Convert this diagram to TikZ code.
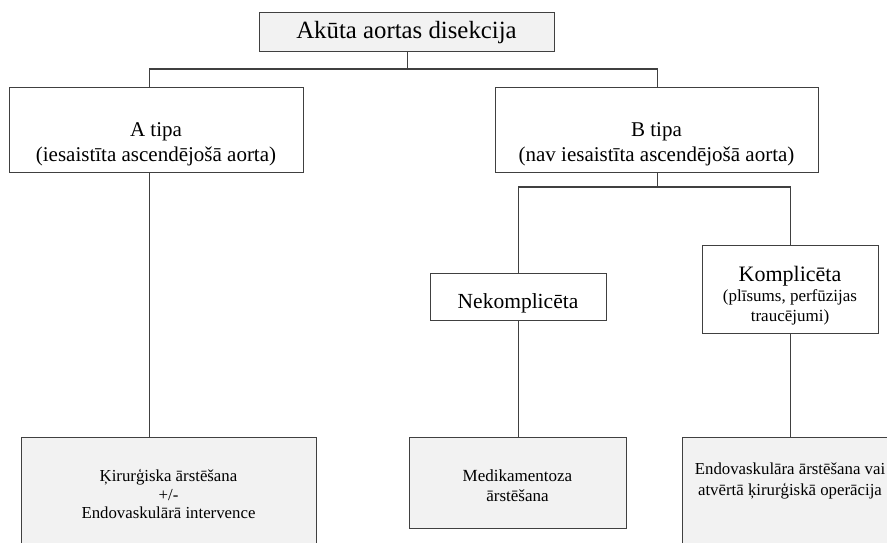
\documentclass[tikz,border=0pt]{standalone}
\usepackage{fontspec}
\setmainfont{Liberation Serif}
\usetikzlibrary{calc}
\definecolor{edge}{HTML}{404040}
\definecolor{shade}{HTML}{F2F2F2}
\tikzset{
  box/.style={draw=edge, line width=1.4pt, anchor=north west, inner sep=0pt},
  greybox/.style={box, fill=shade},
  whitebox/.style={box, fill=white},
  label text/.style={align=center, inner sep=0pt, text=black},
  link/.style={draw=edge, line width=1.4pt},
}
\begin{document}
\begin{tikzpicture}[x=1pt, y=-1pt]
  \useasboundingbox (0,0) rectangle (887,543);
  \clip (0,0) rectangle (887,543);
  \fill[white] (0,0) rectangle (887,543);

  % boxes
  \node[greybox, minimum width=295pt, minimum height=39pt] (top) at (259,12) {};
  \node[whitebox, minimum width=294pt, minimum height=85pt] (A) at (9,87) {};
  \node[whitebox, minimum width=323pt, minimum height=85pt] (B) at (495,87) {};
  \node[whitebox, minimum width=176pt, minimum height=47pt] (nek) at (430,273) {};
  \node[whitebox, minimum width=176pt, minimum height=88pt] (kom) at (702,245) {};
  \node[greybox, minimum width=295pt, minimum height=120pt] (kir) at (21,437) {};
  \node[greybox, minimum width=217pt, minimum height=91pt] (med) at (409,437) {};
  \node[greybox, minimum width=216pt, minimum height=120pt] (endo) at (682,437) {};

  % texts
  \node[label text, font=\fontsize{24.8}{28}\selectfont] (topT) at (406.5,33) {Akūta aortas disekcija};
  \node[label text, font=\fontsize{21}{25}\selectfont] (AT) at (156,144) {A tipa\\(iesaistīta ascendējošā aorta)};
  \node[label text, font=\fontsize{21}{25}\selectfont] (BT) at (656.5,144) {B tipa\\(nav iesaistīta ascendējošā aorta)};
  \node[label text, font=\fontsize{21.5}{25}\selectfont] (nekT) at (518,303) {Nekomplicēta};
  \node[label text, font=\fontsize{17}{20}\selectfont] (komT) at (790,296)
    {{\fontsize{22}{26}\selectfont Komplicēta}\\(plīsums, perfūzijas\\traucējumi)};
  \node[label text, font=\fontsize{16.8}{18.5}\selectfont] (kirT) at (168.5,494)
    {Ķirurģiska ārstēšana\\+/-\\Endovaskulārā intervence};
  \node[label text, font=\fontsize{17}{20}\selectfont] (medT) at (517.5,486) {Medikamentoza\\ārstēšana};
  \node[label text, font=\fontsize{16.8}{21}\selectfont] (endoT) at (790,481)
    {Endovaskulāra ārstēšana vai\\atvērtā ķirurģiskā operācija};

  % connectors
  \coordinate (topBus) at (0,69);
  \coordinate (bBus) at (0,187);
  \coordinate (aIn) at ($(A.north west)!0.476!(A.north east)$);
  \coordinate (aOut) at ($(A.south west)!0.476!(A.south east)$);

  \draw[link] (top.south) -- (top.south |- topBus);
  \draw[link] (aIn) |- (top.south |- topBus) -| (B.north);
  \draw[link] (aOut) -- (aOut |- kir.north);
  \draw[link] (B.south) -- (B.south |- bBus);
  \draw[link] (nek.north) |- (B.south |- bBus) -| (kom.north);
  \draw[link] (nek.south) -- (nek.south |- med.north);
  \draw[link] (kom.south) -- (kom.south |- endo.north);
\end{tikzpicture}
\end{document}
